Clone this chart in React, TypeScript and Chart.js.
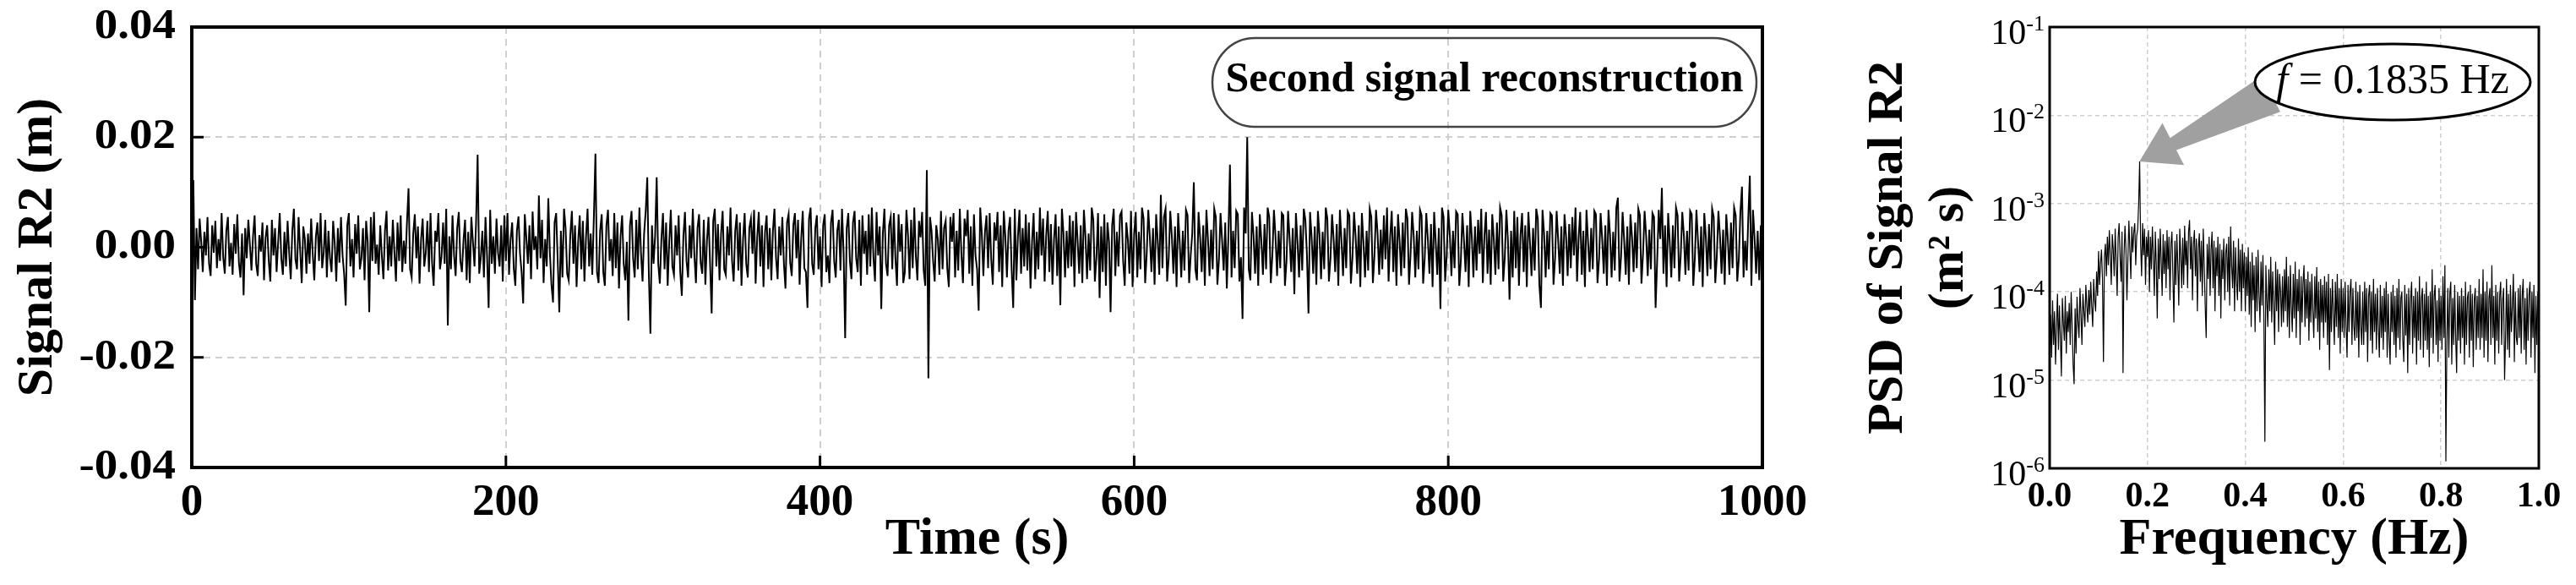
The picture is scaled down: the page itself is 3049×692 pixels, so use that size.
import React, { useEffect, useRef } from "react";
import { Chart, registerables } from "chart.js";

Chart.register(...registerables);

const SERIF = '"Liberation Serif", "Times New Roman", "DejaVu Serif", serif';

// ---------- Left panel: reconstructed signal R2 (m), one sample per second ----------
const TIME_STEP_S = 1;
const TIME_TICKS = [0, 200, 400, 600, 800, 1000];
const SIGNAL_TICKS = [-0.04, -0.02, 0, 0.02, 0.04];
const SIGNAL_R2 = [
-20e-4,122e-4,-96e-4,35e-4,-40e-4,52e-4,10e-4,-45e-4,28e-4,-15e-4,55e-4,-30e-4,-52e-4,40e-4,-10e-4,48e-4,-38e-4,15e-4,-25e-4,62e-4,
-18e-4,-48e-4,30e-4,55e-4,-35e-4,8e-4,-50e-4,42e-4,-12e-4,60e-4,-28e-4,-55e-4,25e-4,-87e-4,35e-4,-20e-4,50e-4,5e-4,-42e-4,20e-4,
58e-4,-30e-4,-52e-4,22e-4,-8e-4,45e-4,-60e-4,18e-4,40e-4,-25e-4,-62e-4,50e-4,-15e-4,35e-4,-45e-4,10e-4,62e-4,-20e-4,-50e-4,28e-4,
-35e-4,48e-4,-10e-4,-58e-4,30e-4,70e-4,-22e-4,-40e-4,55e-4,-5e-4,-65e-4,38e-4,15e-4,-48e-4,25e-4,-30e-4,52e-4,-12e-4,-60e-4,20e-4,
45e-4,-25e-4,62e-4,-38e-4,-10e-4,50e-4,-55e-4,30e-4,-20e-4,-45e-4,48e-4,8e-4,-62e-4,35e-4,-28e-4,55e-4,-15e-4,-48e-4,-106e-4,40e-4,
62e-4,-35e-4,15e-4,-55e-4,42e-4,-12e-4,58e-4,-40e-4,-20e-4,35e-4,-60e-4,48e-4,10e-4,-118e-4,55e-4,-25e-4,64e-4,-30e-4,5e-4,-50e-4,
40e-4,-15e-4,-58e-4,30e-4,66e-4,-42e-4,20e-4,-35e-4,50e-4,-8e-4,-62e-4,45e-4,-25e-4,58e-4,-45e-4,12e-4,-30e-4,45e-4,107e-4,-40e-4,
-55e-4,25e-4,60e-4,-20e-4,38e-4,-66e-4,15e-4,52e-4,-35e-4,-10e-4,48e-4,-45e-4,62e-4,-28e-4,-70e-4,30e-4,10e-4,62e-4,-40e-4,-18e-4,
45e-4,-30e-4,70e-4,-142e-4,20e-4,-40e-4,58e-4,-15e-4,-52e-4,35e-4,64e-4,-25e-4,-45e-4,12e-4,50e-4,-60e-4,28e-4,-65e-4,55e-4,10e-4,
-35e-4,45e-4,168e-4,-48e-4,-20e-4,30e-4,-55e-4,55e-4,-15e-4,-110e-4,68e-4,-30e-4,20e-4,-48e-4,52e-4,-10e-4,-35e-4,40e-4,-62e-4,58e-4,
-25e-4,62e-4,-50e-4,15e-4,45e-4,-38e-4,-70e-4,30e-4,56e-4,-12e-4,-45e-4,-102e-4,60e-4,18e-4,-30e-4,40e-4,-58e-4,65e-4,-5e-4,20e-4,
-40e-4,94e-4,-20e-4,50e-4,-65e-4,15e-4,-35e-4,89e-4,-10e-4,-68e-4,-100e-4,45e-4,62e-4,-25e-4,-118e-4,30e-4,-55e-4,70e-4,35e-4,-48e-4,
-60e-4,22e-4,66e-4,-30e-4,40e-4,-72e-4,10e-4,58e-4,-40e-4,48e-4,-62e-4,18e-4,70e-4,-35e-4,25e-4,-50e-4,55e-4,170e-4,-45e-4,-65e-4,
30e-4,60e-4,-45e-4,-70e-4,40e-4,68e-4,-25e-4,15e-4,-52e-4,62e-4,-38e-4,45e-4,-75e-4,20e-4,58e-4,-30e-4,-60e-4,10e-4,-133e-4,40e-4,
66e-4,-20e-4,-55e-4,50e-4,-40e-4,72e-4,-10e-4,-62e-4,25e-4,65e-4,127e-4,-48e-4,-157e-4,40e-4,-30e-4,20e-4,127e-4,-30e-4,-66e-4,15e-4,
62e-4,-40e-4,45e-4,-70e-4,10e-4,68e-4,-35e-4,-50e-4,40e-4,-15e-4,58e-4,-45e-4,-88e-4,20e-4,64e-4,-25e-4,-55e-4,40e-4,-20e-4,70e-4,
-15e-4,-65e-4,35e-4,60e-4,-28e-4,-48e-4,50e-4,-68e-4,12e-4,55e-4,-30e-4,-120e-4,48e-4,70e-4,-35e-4,42e-4,-60e-4,25e-4,66e-4,-40e-4,
-50e-4,38e-4,-15e-4,72e-4,-25e-4,-62e-4,30e-4,60e-4,-42e-4,45e-4,-70e-4,15e-4,62e-4,-30e-4,-55e-4,35e-4,52e-4,-12e-4,68e-4,-66e-4,
18e-4,64e-4,-35e-4,40e-4,-72e-4,28e-4,58e-4,-40e-4,35e-4,-60e-4,30e-4,70e-4,-20e-4,-58e-4,38e-4,-15e-4,55e-4,-30e-4,-75e-4,45e-4,
60e-4,-28e-4,-52e-4,40e-4,62e-4,-20e-4,50e-4,-68e-4,15e-4,66e-4,-38e-4,-45e-4,-110e-4,52e-4,72e-4,-30e-4,-50e-4,35e-4,58e-4,-40e-4,
20e-4,-72e-4,40e-4,60e-4,-45e-4,-15e-4,-65e-4,45e-4,68e-4,-25e-4,-55e-4,30e-4,50e-4,-42e-4,70e-4,-10e-4,-165e-4,35e-4,62e-4,-25e-4,
-58e-4,45e-4,66e-4,-20e-4,-45e-4,50e-4,-70e-4,58e-4,-12e-4,30e-4,-50e-4,60e-4,-35e-4,72e-4,-18e-4,-62e-4,64e-4,-15e-4,38e-4,-112e-4,
25e-4,70e-4,-30e-4,-52e-4,40e-4,55e-4,-40e-4,62e-4,-20e-4,-70e-4,60e-4,-8e-4,42e-4,-65e-4,-45e-4,68e-4,22e-4,-58e-4,50e-4,-38e-4,
72e-4,-15e-4,-60e-4,48e-4,18e-4,64e-4,-42e-4,-70e-4,140e-4,-238e-4,55e-4,30e-4,-25e-4,-62e-4,40e-4,15e-4,-50e-4,66e-4,-40e-4,35e-4,
48e-4,-38e-4,-72e-4,55e-4,10e-4,62e-4,-55e-4,30e-4,-42e-4,70e-4,-12e-4,-65e-4,52e-4,20e-4,68e-4,-48e-4,38e-4,-70e-4,60e-4,-15e-4,
-40e-4,-115e-4,72e-4,25e-4,-52e-4,28e-4,58e-4,-38e-4,62e-4,-22e-4,-68e-4,45e-4,12e-4,64e-4,-45e-4,40e-4,-72e-4,66e-4,18e-4,-55e-4,
30e-4,55e-4,-40e-4,-110e-4,70e-4,-60e-4,20e-4,68e-4,-48e-4,35e-4,-35e-4,60e-4,-42e-4,45e-4,-75e-4,10e-4,62e-4,-58e-4,28e-4,-40e-4,
72e-4,-15e-4,52e-4,-62e-4,22e-4,66e-4,-45e-4,42e-4,-68e-4,15e-4,60e-4,-52e-4,38e-4,-105e-4,70e-4,25e-4,-55e-4,30e-4,-38e-4,58e-4,
-35e-4,48e-4,-72e-4,64e-4,12e-4,-48e-4,40e-4,-65e-4,68e-4,20e-4,-58e-4,25e-4,-42e-4,72e-4,50e-4,-62e-4,-18e-4,62e-4,-92e-4,38e-4,
-45e-4,60e-4,-70e-4,45e-4,10e-4,-118e-4,40e-4,70e-4,-52e-4,28e-4,-35e-4,58e-4,65e-4,-25e-4,-70e-4,45e-4,15e-4,-48e-4,66e-4,-72e-4,
22e-4,64e-4,-55e-4,28e-4,-40e-4,72e-4,52e-4,-65e-4,-12e-4,68e-4,18e-4,-45e-4,35e-4,-68e-4,60e-4,12e-4,-50e-4,95e-4,-38e-4,55e-4,
70e-4,-62e-4,-20e-4,66e-4,20e-4,-48e-4,38e-4,-72e-4,62e-4,10e-4,-55e-4,30e-4,-42e-4,68e-4,58e-4,-65e-4,-15e-4,25e-4,118e-4,-40e-4,
-60e-4,64e-4,18e-4,-45e-4,40e-4,-70e-4,68e-4,15e-4,-52e-4,32e-4,-40e-4,70e-4,55e-4,-68e-4,-22e-4,62e-4,12e-4,-42e-4,45e-4,-75e-4,
20e-4,150e-4,-55e-4,30e-4,-38e-4,66e-4,60e-4,-62e-4,-18e-4,-130e-4,72e-4,25e-4,200e-4,-40e-4,-60e-4,64e-4,22e-4,-48e-4,38e-4,-70e-4,
60e-4,12e-4,-50e-4,42e-4,-40e-4,72e-4,55e-4,-65e-4,-15e-4,68e-4,20e-4,-52e-4,30e-4,-38e-4,62e-4,58e-4,-70e-4,-25e-4,66e-4,15e-4,
-45e-4,35e-4,-85e-4,62e-4,10e-4,-55e-4,40e-4,-42e-4,70e-4,50e-4,-12e-4,-120e-4,64e-4,18e-4,-48e-4,38e-4,-68e-4,66e-4,22e-4,-58e-4,
28e-4,-40e-4,72e-4,52e-4,-62e-4,-20e-4,60e-4,15e-4,-45e-4,42e-4,-70e-4,68e-4,12e-4,-52e-4,35e-4,-38e-4,65e-4,58e-4,-66e-4,-18e-4,
64e-4,20e-4,-48e-4,40e-4,-72e-4,62e-4,8e-4,-55e-4,30e-4,-42e-4,70e-4,55e-4,-65e-4,-15e-4,68e-4,25e-4,-50e-4,32e-4,-40e-4,58e-4,
-22e-4,72e-4,-62e-4,18e-4,66e-4,-45e-4,38e-4,-70e-4,60e-4,12e-4,-52e-4,45e-4,-38e-4,70e-4,52e-4,-68e-4,-12e-4,64e-4,20e-4,-55e-4,
30e-4,-40e-4,68e-4,58e-4,-66e-4,-20e-4,62e-4,15e-4,-48e-4,42e-4,-72e-4,64e-4,10e-4,-50e-4,35e-4,-112e-4,72e-4,55e-4,-62e-4,-15e-4,
68e-4,22e-4,-52e-4,30e-4,-38e-4,65e-4,60e-4,-70e-4,-25e-4,62e-4,12e-4,-45e-4,40e-4,-72e-4,66e-4,18e-4,-55e-4,38e-4,-42e-4,50e-4,
-12e-4,70e-4,-65e-4,20e-4,64e-4,-48e-4,32e-4,-68e-4,60e-4,15e-4,-50e-4,45e-4,-40e-4,72e-4,58e-4,-62e-4,-18e-4,68e-4,12e-4,-95e-4,
30e-4,-55e-4,66e-4,-38e-4,55e-4,-70e-4,22e-4,62e-4,-45e-4,40e-4,-72e-4,64e-4,10e-4,-52e-4,35e-4,-42e-4,70e-4,52e-4,-68e-4,-110e-4,
68e-4,25e-4,-55e-4,30e-4,-40e-4,62e-4,58e-4,-68e-4,-20e-4,66e-4,12e-4,-48e-4,38e-4,-70e-4,60e-4,20e-4,-52e-4,42e-4,-38e-4,55e-4,
-15e-4,72e-4,-62e-4,18e-4,64e-4,-50e-4,30e-4,-72e-4,68e-4,10e-4,-45e-4,35e-4,-40e-4,66e-4,60e-4,-65e-4,-22e-4,62e-4,15e-4,-48e-4,
40e-4,-70e-4,68e-4,22e-4,-55e-4,28e-4,-42e-4,72e-4,90e-4,-62e-4,-18e-4,64e-4,12e-4,-50e-4,38e-4,-68e-4,60e-4,18e-4,-45e-4,45e-4,
-38e-4,70e-4,58e-4,-66e-4,-12e-4,66e-4,20e-4,-52e-4,32e-4,-40e-4,62e-4,55e-4,-110e-4,-25e-4,68e-4,15e-4,108e-4,-48e-4,40e-4,-72e-4,
62e-4,10e-4,-55e-4,40e-4,-38e-4,72e-4,58e-4,-62e-4,-15e-4,64e-4,22e-4,-50e-4,30e-4,-42e-4,66e-4,60e-4,-70e-4,-20e-4,68e-4,12e-4,
-45e-4,38e-4,-72e-4,62e-4,18e-4,-52e-4,42e-4,-40e-4,70e-4,55e-4,-65e-4,-15e-4,66e-4,20e-4,-48e-4,32e-4,-68e-4,60e-4,15e-4,-50e-4,
45e-4,-38e-4,72e-4,58e-4,-62e-4,-22e-4,64e-4,110e-4,-55e-4,12e-4,-42e-4,52e-4,130e-4,-70e-4,68e-4,18e-4,-48e-4,30e-4,-60e-4,40e-4,
-20e-4
];

// ---------- Right panel: PSD of signal R2 (m^2 s) ----------
const FREQ_STEP_HZ = 0.002;
const FREQ_TICKS = [0, 0.2, 0.4, 0.6, 0.8, 1.0];
const PSD_EXPONENTS = [-6, -5, -4, -3, -2, -1];
const PEAK_FREQ_HZ = 0.1835;
const PEAK_PSD = 3000e-6;
const PSD_R2 = [
12e-6,55e-6,18e-6,80e-6,25e-6,60e-6,15e-6,40e-6,95e-6,22e-6,70e-6,30e-6,11e-6,85e-6,45e-6,28e-6,90e-6,20e-6,60e-6,35e-6,
75e-6,25e-6,100e-6,40e-6,15e-6,9e-6,65e-6,20e-6,88e-6,45e-6,30e-6,110e-6,55e-6,25e-6,95e-6,60e-6,40e-6,120e-6,70e-6,45e-6,
105e-6,55e-6,130e-6,70e-6,40e-6,140e-6,80e-6,60e-6,170e-6,90e-6,290e-6,120e-6,210e-6,300e-6,140e-6,16e-6,250e-6,350e-6,150e-6,420e-6,
200e-6,500e-6,260e-6,120e-6,450e-6,300e-6,150e-6,520e-6,220e-6,90e-6,410e-6,600e-6,250e-6,130e-6,480e-6,12e-6,250e-6,560e-6,300e-6,80e-6,
240e-6,640e-6,300e-6,140e-6,550e-6,280e-6,480e-6,600e-6,200e-6,430e-6,520e-6,1000e-6,3000e-6,350e-6,150e-6,600e-6,260e-6,520e-6,120e-6,420e-6,
250e-6,500e-6,100e-6,420e-6,180e-6,550e-6,260e-6,90e-6,480e-6,200e-6,50e-6,400e-6,140e-6,520e-6,230e-6,90e-6,450e-6,160e-6,380e-6,110e-6,
500e-6,180e-6,420e-6,80e-6,350e-6,480e-6,150e-6,45e-6,380e-6,120e-6,450e-6,200e-6,70e-6,520e-6,260e-6,110e-6,410e-6,120e-6,560e-6,200e-6,
380e-6,110e-6,480e-6,650e-6,180e-6,420e-6,80e-6,350e-6,500e-6,150e-6,400e-6,60e-6,320e-6,460e-6,130e-6,380e-6,90e-6,520e-6,200e-6,70e-6,
30e-6,350e-6,140e-6,420e-6,90e-6,300e-6,480e-6,110e-6,380e-6,60e-6,320e-6,150e-6,420e-6,90e-6,350e-6,50e-6,300e-6,140e-6,400e-6,80e-6,
280e-6,350e-6,100e-6,420e-6,70e-6,550e-6,200e-6,110e-6,380e-6,60e-6,320e-6,130e-6,80e-6,400e-6,100e-6,300e-6,60e-6,350e-6,110e-6,280e-6,
60e-6,250e-6,90e-6,320e-6,55e-6,220e-6,40e-6,280e-6,80e-6,200e-6,35e-6,250e-6,60e-6,300e-6,90e-6,45e-6,220e-6,70e-6,260e-6,50e-6,
2e-6,200e-6,80e-6,40e-6,180e-6,60e-6,250e-6,45e-6,170e-6,70e-6,25e-6,220e-6,60e-6,180e-6,35e-6,160e-6,100e-6,40e-6,150e-6,45e-6,
180e-6,60e-6,250e-6,40e-6,150e-6,30e-6,200e-6,70e-6,35e-6,160e-6,50e-6,220e-6,30e-6,140e-6,60e-6,180e-6,25e-6,150e-6,45e-6,130e-6,
200e-6,40e-6,140e-6,50e-6,170e-6,28e-6,130e-6,45e-6,160e-6,60e-6,30e-6,150e-6,50e-6,190e-6,35e-6,130e-6,22e-6,140e-6,45e-6,120e-6,
30e-6,150e-6,45e-6,130e-6,25e-6,160e-6,13e-6,110e-6,35e-6,140e-6,60e-6,25e-6,130e-6,40e-6,160e-6,30e-6,110e-6,20e-6,140e-6,35e-6,
110e-6,30e-6,130e-6,40e-6,18e-6,120e-6,35e-6,100e-6,140e-6,25e-6,110e-6,40e-6,28e-6,130e-6,30e-6,100e-6,18e-6,120e-6,40e-6,25e-6,
100e-6,25e-6,130e-6,35e-6,110e-6,16e-6,90e-6,120e-6,28e-6,100e-6,20e-6,140e-6,35e-6,95e-6,22e-6,110e-6,40e-6,18e-6,120e-6,30e-6,
90e-6,22e-6,110e-6,35e-6,130e-6,18e-6,95e-6,30e-6,15e-6,100e-6,35e-6,120e-6,25e-6,90e-6,18e-6,110e-6,30e-6,140e-6,22e-6,85e-6,
100e-6,28e-6,16e-6,120e-6,32e-6,95e-6,12e-6,110e-6,25e-6,85e-6,130e-6,20e-6,90e-6,30e-6,110e-6,15e-6,100e-6,28e-6,150e-6,22e-6,
85e-6,110e-6,18e-6,95e-6,28e-6,130e-6,22e-6,90e-6,14e-6,100e-6,30e-6,180e-6,20e-6,90e-6,120e-6,25e-6,80e-6,16e-6,110e-6,28e-6,
90e-6,22e-6,150e-6,30e-6,200e-6,1.2e-6,28e-6,110e-6,18e-6,95e-6,130e-6,15e-6,85e-6,25e-6,120e-6,30e-6,12e-6,100e-6,28e-6,90e-6,
20e-6,110e-6,30e-6,90e-6,15e-6,130e-6,25e-6,85e-6,100e-6,18e-6,120e-6,28e-6,95e-6,14e-6,80e-6,110e-6,22e-6,90e-6,30e-6,140e-6,
22e-6,95e-6,30e-6,180e-6,18e-6,100e-6,28e-6,130e-6,16e-6,85e-6,110e-6,25e-6,200e-6,30e-6,90e-6,15e-6,120e-6,28e-6,100e-6,20e-6,
90e-6,130e-6,25e-6,80e-6,110e-6,10e-6,30e-6,140e-6,22e-6,95e-6,18e-6,120e-6,35e-6,70e-6,160e-6,16e-6,100e-6,30e-6,25e-6,110e-6,
30e-6,120e-6,20e-6,90e-6,140e-6,22e-6,85e-6,15e-6,110e-6,28e-6,95e-6,130e-6,18e-6,100e-6,30e-6,120e-6,12e-6,90e-6,25e-6,100e-6,
80e-6
];

const GRID = "#cfcfcf";

function drawText(
  ctx: any,
  text: string,
  x: number,
  y: number,
  font: string,
  sx: number,
  align: string,
  baseline: string
) {
  ctx.save();
  ctx.font = font;
  ctx.textAlign = align;
  ctx.textBaseline = baseline;
  ctx.translate(x, y);
  ctx.scale(sx, 1);
  ctx.fillText(text, 0, 0);
  ctx.restore();
}

const mainDecor = {
  id: "mainDecor",
  afterDraw(chart: any) {
    const { ctx, chartArea: a, scales } = chart;
    const xs = scales.x;
    const ys = scales.y;
    ctx.save();
    // inward tick marks
    ctx.strokeStyle = "#000";
    ctx.lineWidth = 3;
    ctx.beginPath();
    for (const v of SIGNAL_TICKS) {
      if (v <= ys.min || v >= ys.max) continue;
      const y = ys.getPixelForValue(v);
      ctx.moveTo(a.left, y);
      ctx.lineTo(a.left + 14, y);
    }
    for (const t of TIME_TICKS) {
      if (t <= xs.min || t >= xs.max) continue;
      const x = xs.getPixelForValue(t);
      ctx.moveTo(x, a.bottom);
      ctx.lineTo(x, a.bottom - 14);
    }
    ctx.stroke();
    // frame
    ctx.lineWidth = 4;
    ctx.strokeRect(a.left, a.top, a.right - a.left, a.bottom - a.top);
    // y tick labels (bold serif, slightly wide)
    ctx.fillStyle = "#000";
    for (const v of SIGNAL_TICKS) {
      const y = ys.getPixelForValue(v);
      const label = Math.abs(v) < 1e-9 ? "0.00" : v.toFixed(2);
      drawText(ctx, label, a.left - 19, y, `bold 50px ${SERIF}`, 1.1, "right", "middle");
    }
    // annotation box
    const x0 = a.right - 651;
    const x1 = a.right - 7;
    const y0 = a.top + 13;
    const y1 = a.top + 118;
    const rx = 50;
    const ry = (y1 - y0) / 2;
    ctx.beginPath();
    ctx.moveTo(x0 + rx, y0);
    ctx.lineTo(x1 - rx, y0);
    ctx.ellipse(x1 - rx, y0 + ry, rx, ry, 0, -Math.PI / 2, Math.PI / 2);
    ctx.lineTo(x0 + rx, y1);
    ctx.ellipse(x0 + rx, y0 + ry, rx, ry, 0, Math.PI / 2, (3 * Math.PI) / 2);
    ctx.closePath();
    ctx.strokeStyle = "#444";
    ctx.lineWidth = 2.5;
    ctx.stroke();
    ctx.fillStyle = "#000";
    drawText(ctx, "Second signal reconstruction", (x0 + x1) / 2, y0 + ry - 2, `bold 50px ${SERIF}`, 1.0, "center", "middle");
    ctx.restore();
  },
};

const psdDecor = {
  id: "psdDecor",
  afterDraw(chart: any) {
    const { ctx, chartArea: a, scales } = chart;
    const xs = scales.x;
    const ys = scales.y;
    ctx.save();
    // arrow
    const tipX = xs.getPixelForValue(PEAK_FREQ_HZ);
    const tipY = ys.getPixelForValue(PEAK_PSD);
    const tailX = a.left + 262;
    const tailY = a.top + 79;
    const dx = tipX - tailX;
    const dy = tipY - tailY;
    const len = Math.hypot(dx, dy);
    const ux = dx / len;
    const uy = dy / len;
    const nx = -uy;
    const ny = ux;
    const headLen = 45;
    const hbX = tipX - ux * headLen;
    const hbY = tipY - uy * headLen;
    const pts = [
      [tailX + nx * 24, tailY + ny * 24],
      [hbX + nx * 8, hbY + ny * 8],
      [hbX + nx * 28, hbY + ny * 28],
      [tipX, tipY],
      [hbX - nx * 28, hbY - ny * 28],
      [hbX - nx * 8, hbY - ny * 8],
      [tailX - nx * 24, tailY - ny * 24],
    ];
    ctx.beginPath();
    pts.forEach(([px, py], i) => (i === 0 ? ctx.moveTo(px, py) : ctx.lineTo(px, py)));
    ctx.closePath();
    ctx.fillStyle = "#a0a0a0";
    ctx.fill();
    // ellipse label
    const ecx = a.left + 406;
    const ecy = a.top + 65;
    ctx.beginPath();
    ctx.ellipse(ecx, ecy, 163, 45, 0, 0, Math.PI * 2);
    ctx.fillStyle = "#fff";
    ctx.fill();
    ctx.strokeStyle = "#000";
    ctx.lineWidth = 3;
    ctx.stroke();
    ctx.fillStyle = "#000";
    ctx.textBaseline = "middle";
    ctx.textAlign = "left";
    const italic = `italic 50px ${SERIF}`;
    const regular = `50px ${SERIF}`;
    const rest = " = " + PEAK_FREQ_HZ.toFixed(4) + " Hz";
    ctx.font = italic;
    const wf = ctx.measureText("f").width;
    ctx.font = regular;
    const wr = ctx.measureText(rest).width;
    const sx = ecx - (wf + wr) / 2;
    ctx.font = italic;
    ctx.fillText("f", sx, ecy);
    ctx.font = regular;
    ctx.fillText(rest, sx + wf, ecy);
    // frame
    ctx.lineWidth = 3;
    ctx.strokeStyle = "#000";
    ctx.strokeRect(a.left, a.top, a.right - a.left, a.bottom - a.top);
    // y tick labels 10^n
    ctx.textAlign = "right";
    ctx.textBaseline = "alphabetic";
    for (const e of PSD_EXPONENTS) {
      const y = ys.getPixelForValue(Math.pow(10, e));
      const right = a.left - 6;
      const sup = "-" + Math.abs(e);
      ctx.font = `26px ${SERIF}`;
      ctx.fillText(sup, right, y + 4);
      const w = ctx.measureText(sup).width;
      ctx.font = `42px ${SERIF}`;
      ctx.fillText("10", right - w, y + 20);
    }
    ctx.restore();
  },
};

export default function App() {
  const mainRef = useRef<HTMLCanvasElement>(null);
  const psdRef = useRef<HTMLCanvasElement>(null);

  useEffect(() => {
    Chart.defaults.font.family = SERIF;
    const signalData = SIGNAL_R2.map((v, i) => ({ x: i * TIME_STEP_S, y: v }));
    const psdData = PSD_R2.map((v, i) => ({ x: i * FREQ_STEP_HZ, y: v }));

    const mainChart = new Chart(mainRef.current as HTMLCanvasElement, {
      type: "line",
      data: {
        datasets: [
          {
            data: signalData,
            borderColor: "#000",
            borderWidth: 2,
            pointRadius: 0,
            tension: 0,
            fill: false,
          },
        ],
      },
      options: {
        animation: false,
        responsive: false,
        devicePixelRatio: 1,
        events: [],
        layout: { padding: { left: 0, right: 39, top: 32, bottom: 0 } },
        plugins: { legend: { display: false }, tooltip: { enabled: false } },
        scales: {
          x: {
            type: "linear",
            min: 0,
            max: 1000,
            afterBuildTicks: (s: any) => {
              s.ticks = TIME_TICKS.map((v) => ({ value: v }));
            },
            afterFit: (s: any) => {
              s.height = 139;
            },
            grid: { color: GRID, lineWidth: 2, drawTicks: false },
            border: { display: false, dash: [8, 6] },
            ticks: {
              color: "#000",
              font: { family: SERIF, size: 53, weight: "bold" },
              padding: 11,
              maxRotation: 0,
              autoSkip: false,
              callback: (v: any) => String(v),
            },
            title: {
              display: true,
              text: "Time (s)",
              color: "#000",
              font: { family: SERIF, size: 62, weight: "bold" },
              padding: { top: 0, bottom: 16 },
            },
          },
          y: {
            type: "linear",
            min: -0.04,
            max: 0.04,
            afterBuildTicks: (s: any) => {
              s.ticks = SIGNAL_TICKS.map((v) => ({ value: v }));
            },
            afterFit: (s: any) => {
              s.width = 227;
            },
            grid: { color: GRID, lineWidth: 2, drawTicks: false },
            border: { display: false, dash: [8, 6] },
            ticks: { display: false },
            title: {
              display: true,
              text: "Signal R2 (m)",
              color: "#000",
              font: { family: SERIF, size: 60, weight: "bold" },
              padding: { top: 9, bottom: 0 },
            },
          },
        },
      },
      plugins: [mainDecor],
    } as any);

    const psdChart = new Chart(psdRef.current as HTMLCanvasElement, {
      type: "line",
      data: {
        datasets: [
          {
            data: psdData,
            borderColor: "#000",
            borderWidth: 1.2,
            pointRadius: 0,
            tension: 0,
            fill: false,
          },
        ],
      },
      options: {
        animation: false,
        responsive: false,
        devicePixelRatio: 1,
        events: [],
        layout: { padding: { left: 0, right: 44, top: 32, bottom: 0 } },
        plugins: { legend: { display: false }, tooltip: { enabled: false } },
        scales: {
          x: {
            type: "linear",
            min: 0,
            max: 1,
            afterBuildTicks: (s: any) => {
              s.ticks = FREQ_TICKS.map((v) => ({ value: v }));
            },
            afterFit: (s: any) => {
              s.height = 138;
            },
            grid: { color: GRID, lineWidth: 1.5, drawTicks: false },
            border: { display: false, dash: [5, 4] },
            ticks: {
              color: "#000",
              font: { family: SERIF, size: 42, weight: "bold" },
              padding: 9,
              maxRotation: 0,
              autoSkip: false,
              callback: (v: any) => Number(v).toFixed(1),
            },
            title: {
              display: true,
              text: "Frequency (Hz)",
              color: "#000",
              font: { family: SERIF, size: 62, weight: "bold" },
              padding: { top: 0, bottom: 16 },
            },
          },
          y: {
            type: "logarithmic",
            min: 1e-6,
            max: 1e-1,
            afterBuildTicks: (s: any) => {
              s.ticks = PSD_EXPONENTS.map((e) => ({ value: Math.pow(10, e) }));
            },
            afterFit: (s: any) => {
              s.width = 276;
            },
            grid: { color: GRID, lineWidth: 1.5, drawTicks: false },
            border: { display: false, dash: [5, 4] },
            ticks: { display: false },
            title: {
              display: true,
              text: ["PSD of Signal R2", "(m\u00B2 s)"],
              color: "#000",
              font: { family: SERIF, size: 60, weight: "bold" },
              padding: { top: 49, bottom: 0 },
            },
          },
        },
      },
      plugins: [psdDecor],
    } as any);

    return () => {
      mainChart.destroy();
      psdChart.destroy();
    };
  }, []);

  return (
    <div
      style={{
        position: "absolute",
        left: 0,
        top: 0,
        width: 3049,
        height: 692,
        background: "#fff",
        overflow: "hidden",
      }}
    >
      <canvas
        ref={mainRef}
        width={2150}
        height={692}
        style={{ position: "absolute", left: 0, top: 0, width: 2150, height: 692 }}
      />
      <canvas
        ref={psdRef}
        width={899}
        height={692}
        style={{ position: "absolute", left: 2150, top: 0, width: 899, height: 692 }}
      />
    </div>
  );
}
